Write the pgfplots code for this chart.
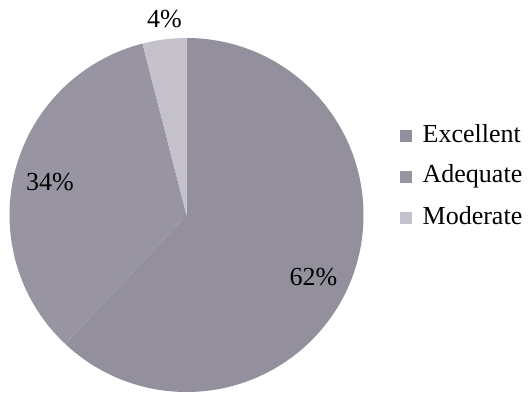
\documentclass[border=0pt]{standalone}
\usepackage{fontspec}
\setmainfont{Liberation Serif}
\usepackage{pgfplots}
\usepackage{pgfplotstable}
\pgfplotsset{compat=1.18}

\definecolor{excellent}{RGB}{147,143,157}
\definecolor{adequate}{RGB}{152,148,162}
\definecolor{moderate}{RGB}{196,193,203}

% share (%), label position in px (y up)
\pgfplotstableread{
name      pct  lx     ly
Excellent 62   313.5  112
Adequate  34   50     207
Moderate  4    164.5  369
}\piedata

\newcommand{\pielbl}{\fontsize{19.5}{23}\selectfont}

\begin{document}
\begin{tikzpicture}
% slice angles, clockwise from the top
\pgfplotstablegetelem{0}{pct}\of\piedata \let\pA\pgfplotsretval
\pgfplotstablegetelem{1}{pct}\of\piedata \let\pB\pgfplotsretval
\pgfplotstablegetelem{2}{pct}\of\piedata \let\pC\pgfplotsretval
\pgfmathsetmacro\aA{90-3.6*\pA}
\pgfmathsetmacro\aB{\aA-3.6*\pB}
\pgfmathsetmacro\aC{\aB-3.6*\pC}
\pgfplotstablegetelem{0}{lx}\of\piedata \let\xA\pgfplotsretval
\pgfplotstablegetelem{0}{ly}\of\piedata \let\yA\pgfplotsretval
\pgfplotstablegetelem{1}{lx}\of\piedata \let\xB\pgfplotsretval
\pgfplotstablegetelem{1}{ly}\of\piedata \let\yB\pgfplotsretval
\pgfplotstablegetelem{2}{lx}\of\piedata \let\xC\pgfplotsretval
\pgfplotstablegetelem{2}{ly}\of\piedata \let\yC\pgfplotsretval
\begin{axis}[
    x=0.75pt, y=0.75pt,
    xmin=0, xmax=528, ymin=0, ymax=397,
    hide axis,
    clip=false,
    legend image code/.code={\fill[#1, draw=none] (0pt,-4.5pt) rectangle (9pt,4.5pt);},
    legend cell align=left,
    legend style={
        at={(axis cs:400,273)}, anchor=north west,
        draw=none, fill=none, inner sep=0pt, outer sep=0pt,
        font=\pielbl,
        row sep=12.75pt,
        nodes={inner sep=0pt, text height=13.5pt, text depth=4.5pt},
        /tikz/every odd column/.append style={column sep=8pt},
    },
]
\fill[excellent] (axis cs:186.5,182) -- ++(90:132.75pt)
    arc[start angle=90, end angle=\aA, radius=132.75pt] -- cycle;
\fill[adequate] (axis cs:186.5,182) -- ++(\aA:132.75pt)
    arc[start angle=\aA, end angle=\aB, radius=132.75pt] -- cycle;
\fill[moderate] (axis cs:186.5,182) -- ++(\aB:132.75pt)
    arc[start angle=\aB, end angle=\aC, radius=132.75pt] -- cycle;

\node[anchor=base, font=\pielbl] at (axis cs:\xA,\yA) {\pA\%};
\node[anchor=base, font=\pielbl] at (axis cs:\xB,\yB) {\pB\%};
\node[anchor=base, font=\pielbl] at (axis cs:\xC,\yC) {\pC\%};

\addlegendimage{fill=excellent}
\addlegendimage{fill=adequate}
\addlegendimage{fill=moderate}
\legend{Excellent,Adequate,Moderate}
\end{axis}
\pgfresetboundingbox
\useasboundingbox (current axis.south west) rectangle (current axis.north east);
\end{tikzpicture}
\end{document}
